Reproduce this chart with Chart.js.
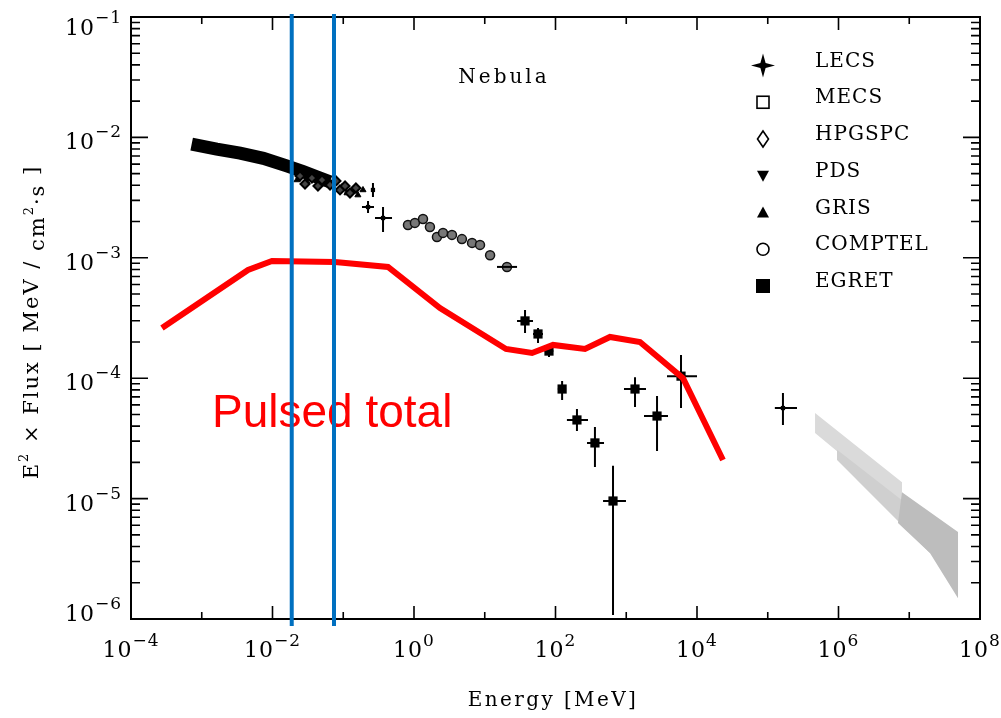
<!DOCTYPE html>
<html>
<head>
<meta charset="utf-8">
<script src="https://cdn.jsdelivr.net/npm/chart.js@4.4.1/dist/chart.umd.min.js"></script>
<style>
body{margin:0;background:#fff;}
#wrap{width:1001px;height:718px;position:relative;}
</style>
</head>
<body>
<div id="wrap"><canvas id="crab"></canvas></div>
<script>
// axes (decade exponents)
const xDecades = [-4,-3,-2,-1,0,1,2,3,4,5,6,7,8];
const xLabelDecades = [-4,-2,0,2,4,6,8];
const yDecades = [-6,-5,-4,-3,-2,-1];

// LECS/MECS/HPGSPC band, E [MeV] vs E^2 F [MeV/cm2 s]
const bandE = [7.2e-4,1.63e-3,3.48e-3,7.42e-3,0.0159,0.0272,0.0422,0.065];
const bandF = [8.8e-3,8.0e-3,7.4e-3,6.7e-3,5.8e-3,5.2e-3,4.7e-3,4.27e-3];

// scattered MECS points at the end of the band
const mecsE = [0.0222,0.0308,0.0426,0.0589,0.0764,0.0960,0.113,0.137,0.161,0.190];
const mecsF = [4.43e-3,4.27e-3,4.43e-3,4.27e-3,4.18e-3,3.87e-3,3.45e-3,3.66e-3,3.32e-3,3.66e-3];

// HPGSPC points
const hpgE = [0.0245,0.0288,0.0361,0.0439,0.0501,0.0650,0.0790,0.0900,0.106,0.1245,0.151];
const hpgF = [4.78e-3,4.10e-3,4.60e-3,3.95e-3,4.43e-3,4.02e-3,4.35e-3,3.66e-3,3.95e-3,3.45e-3,3.80e-3];

// PDS + single high energy point (crosses)
const pdsE   = [0.263,0.224,0.365,1.64e5];
const pdsF   = [3.66e-3,2.64e-3,2.14e-3,5.65e-5];
const pdsElo = [0.263,0.184,0.281,1.26e5];
const pdsEhi = [0.263,0.272,0.489,2.59e5];
const pdsFlo = [3.20e-3,2.36e-3,1.64e-3,4.08e-5];
const pdsFhi = [4.18e-3,2.96e-3,2.64e-3,7.53e-5];

// COMPTEL
const comptelE = [0.822,1.03,1.34,1.68,2.11,2.57,3.44,4.76,6.61,8.57,11.9,20.6];
const comptelF = [1.87e-3,1.95e-3,2.10e-3,1.80e-3,1.49e-3,1.61e-3,1.55e-3,1.43e-3,1.33e-3,1.28e-3,1.05e-3,8.4e-4];
const comptelElo = [null,null,null,null,null,null,null,null,null,null,null,14.9];
const comptelEhi = [null,null,null,null,null,null,null,null,null,null,null,28.6];

// EGRET
const egretE   = [37.1,56.6,80.9,124,201,361,650,1330,2723,5943];
const egretF   = [2.99e-4,2.33e-4,1.68e-4,8.13e-5,4.50e-5,2.90e-5,9.55e-6,8.13e-5,4.85e-5,1.04e-4];
const egretElo = [28.6,48.1,70,108,145,279,470,929,1782,3767];
const egretEhi = [48.1,66.5,93,141,288,485,991,1901,3890,10000];
const egretFlo = [2.37e-4,1.96e-4,1.5e-4,6.59e-5,3.64e-5,1.83e-5,1.08e-6,5.77e-5,2.48e-5,5.66e-5];
const egretFhi = [3.68e-4,2.61e-4,1.9e-4,9.48e-5,5.55e-5,3.94e-5,1.87e-5,1.02e-4,7.11e-5,1.56e-4];

// TeV shaded regions (polygon corners)
const shadeAE = [4.66e5,7.90e6,7.90e6,4.66e5];
const shadeAF = [5.14e-5,1.37e-5,8.85e-6,3.51e-5];
const shadeBE = [9.53e5,1.96e7,1.96e7,9.53e5];
const shadeBF = [2.54e-5,6.40e-6,3.53e-6,2.09e-5];
const shadeCE = [7.90e6,4.89e7,4.89e7,1.96e7,6.93e6];
const shadeCF = [1.13e-5,5.28e-6,1.49e-6,3.53e-6,6.27e-6];

// pulsed total model curve
const pulsedE = [2.74e-4,4.51e-3,9.84e-3,0.0764,0.429,2.33,19.95,46.6,92.3,261,589,1563,6339,23280];
const pulsedF = [2.61e-4,7.93e-4,9.40e-4,9.23e-4,8.39e-4,3.83e-4,1.75e-4,1.62e-4,1.89e-4,1.75e-4,2.20e-4,2.00e-4,1.00e-4,2.09e-5];

// blue markers
const blueE = [0.0187,0.0740];
const blueF = [8.75e-7,0.106];

const legendNames = ['LECS','MECS','HPGSPC','PDS','GRIS','COMPTEL','EGRET'];

const serif = '"DejaVu Serif", serif';
const pts = (xs, ys) => xs.map((v, i) => ({x: v, y: ys[i]}));

const errorSets = {
  EGRET: {xlo: egretElo, xhi: egretEhi, ylo: egretFlo, yhi: egretFhi},
  PDS: {xlo: pdsElo, xhi: pdsEhi, ylo: pdsFlo, yhi: pdsFhi},
  COMPTEL: {xlo: comptelElo, xhi: comptelEhi, ylo: null, yhi: null}
};

const errorBars = {
  id: 'errorBars',
  afterDatasetDraw(chart, args) {
    const ds = chart.data.datasets[args.index];
    const err = errorSets[ds.label];
    if (!err) return;
    const {ctx, scales: {x, y}} = chart;
    ctx.save();
    ctx.strokeStyle = '#000';
    ctx.lineWidth = 2;
    ctx.beginPath();
    ds.data.forEach((p, i) => {
      const px = x.getPixelForValue(p.x), py = y.getPixelForValue(p.y);
      if (err.xlo && err.xlo[i] != null) {
        ctx.moveTo(x.getPixelForValue(err.xlo[i]), py);
        ctx.lineTo(x.getPixelForValue(err.xhi[i]), py);
      }
      if (err.ylo && err.ylo[i] != null) {
        ctx.moveTo(px, y.getPixelForValue(err.ylo[i]));
        ctx.lineTo(px, y.getPixelForValue(err.yhi[i]));
      }
    });
    ctx.stroke();
    ctx.restore();
  }
};

function power(ctx, exp, x, baseY, supY, center) {
  const base = '10';
  const sup = exp < 0 ? '\u2212' + (-exp) : String(exp);
  ctx.letterSpacing = '1px';
  ctx.font = '22px ' + serif;
  const wb = ctx.measureText(base).width;
  ctx.font = '17px ' + serif;
  const ws = ctx.measureText(sup).width;
  const left = center ? x - (wb + ws) / 2 : x - wb - ws;
  ctx.textAlign = 'left';
  ctx.font = '22px ' + serif;
  ctx.fillText(base, left, baseY);
  ctx.font = '17px ' + serif;
  ctx.fillText(sup, left + wb, supY);
  ctx.letterSpacing = '0px';
}

const frame = {
  id: 'frame',
  beforeDatasetsDraw(chart) {
    const {ctx, chartArea: a, scales: {x, y}} = chart;
    ctx.save();
    ctx.fillStyle = '#000';
    ctx.strokeStyle = '#000';
    ctx.lineWidth = 2;
    ctx.strokeRect(a.left, a.top, a.right - a.left, a.bottom - a.top);
    ctx.lineWidth = 1.6;
    ctx.beginPath();
    xDecades.forEach(d => {
      const px = x.getPixelForValue(Math.pow(10, d));
      const len = d % 2 === 0 ? 13 : 7;
      ctx.moveTo(px, a.bottom); ctx.lineTo(px, a.bottom - len);
      ctx.moveTo(px, a.top); ctx.lineTo(px, a.top + len);
    });
    yDecades.forEach(d => {
      for (let m = 1; m < 10; m++) {
        if (d === -1 && m > 1) break;
        const py = y.getPixelForValue(m * Math.pow(10, d));
        const len = m === 1 ? 17 : 9;
        ctx.moveTo(a.left, py); ctx.lineTo(a.left + len, py);
        ctx.moveTo(a.right, py); ctx.lineTo(a.right - len, py);
      }
    });
    ctx.stroke();

    // tick labels
    xLabelDecades.forEach(d => {
      const px = x.getPixelForValue(Math.pow(10, d));
      power(ctx, d, px, a.bottom + 38, a.bottom + 27, true);
    });
    yDecades.forEach(d => {
      const py = y.getPixelForValue(Math.pow(10, d));
      const base = Math.min(Math.max(py + 12, a.top + 18), a.bottom + 2);
      power(ctx, d, a.left - 9, base, base - 12, false);
    });

    // axis titles
    ctx.font = '20px ' + serif;
    ctx.letterSpacing = '2.4px';
    ctx.textAlign = 'center';
    ctx.fillText('Energy [MeV]', 553, 706);

    const segs = [['E', 21, 0], ['2', 13, -10], [' \u00d7 Flux [ MeV /', 21, 0], [' cm', 21, 6],
                  ['2', 13, -5], ['\u00b7s', 21, 6], [' ]', 21, 0]];
    ctx.letterSpacing = '2px';
    ctx.textAlign = 'left';
    let total = 0;
    segs.forEach(s => { ctx.font = s[1] + 'px ' + serif; total += ctx.measureText(s[0]).width; });
    ctx.translate(38, 322);
    ctx.rotate(-Math.PI / 2);
    let cx = -total / 2;
    segs.forEach(s => {
      ctx.font = s[1] + 'px ' + serif;
      ctx.fillText(s[0], cx, s[2]);
      cx += ctx.measureText(s[0]).width;
    });
    ctx.restore();

    ctx.save();
    ctx.fillStyle = '#ff0000';
    ctx.font = '46px "Liberation Sans", Arial, sans-serif';
    ctx.textAlign = 'left';
    ctx.fillText('Pulsed total', 212, 427);
    ctx.restore();
  },
  afterDraw(chart) {
    const {ctx} = chart;
    ctx.save();
    ctx.fillStyle = '#000';
    ctx.strokeStyle = '#000';
    ctx.font = '20px ' + serif;
    ctx.letterSpacing = '3px';
    ctx.textAlign = 'center';
    ctx.fillText('Nebula', 504, 83);

    ctx.letterSpacing = '1px';
    ctx.textAlign = 'left';
    legendNames.forEach((name, i) => {
      const by = 66.5 + i * 36.75;
      ctx.fillText(name, 815, by);
      const sx = 763, sy = by - 1;
      ctx.lineWidth = 1.6;
      ctx.beginPath();
      if (i === 0) {
        const r = 12, k = 2.6;
        ctx.moveTo(sx, sy - r); ctx.lineTo(sx + k, sy - k); ctx.lineTo(sx + r, sy);
        ctx.lineTo(sx + k, sy + k); ctx.lineTo(sx, sy + r); ctx.lineTo(sx - k, sy + k);
        ctx.lineTo(sx - r, sy); ctx.lineTo(sx - k, sy - k); ctx.closePath();
        ctx.fill();
      } else if (i === 1) {
        ctx.strokeRect(sx - 6, sy - 6, 12, 12);
      } else if (i === 2) {
        ctx.moveTo(sx, sy - 8); ctx.lineTo(sx + 5.5, sy); ctx.lineTo(sx, sy + 8); ctx.lineTo(sx - 5.5, sy);
        ctx.closePath(); ctx.stroke();
      } else if (i === 3) {
        ctx.moveTo(sx - 6, sy - 5); ctx.lineTo(sx + 6, sy - 5); ctx.lineTo(sx, sy + 6);
        ctx.closePath(); ctx.fill();
      } else if (i === 4) {
        ctx.moveTo(sx - 6, sy + 5); ctx.lineTo(sx + 6, sy + 5); ctx.lineTo(sx, sy - 6);
        ctx.closePath(); ctx.fill();
      } else if (i === 5) {
        ctx.arc(sx, sy, 6, 0, Math.PI * 2); ctx.stroke();
      } else {
        ctx.fillRect(sx - 7, sy - 7, 14, 14);
      }
    });
    ctx.restore();
  }
};

const shade = (label, xs, ys, color) => ({
  label, data: pts(xs, ys), showLine: true, fill: 'shape', backgroundColor: color,
  borderWidth: 0, borderColor: color, pointRadius: 0
});

new Chart(document.getElementById('crab'), {
  type: 'scatter',
  data: {
    datasets: [
      {label: 'blue1', data: pts([blueE[0], blueE[0]], blueF), showLine: true, borderColor: '#0070c0',
       borderWidth: 4, pointRadius: 0, clip: false},
      {label: 'blue2', data: pts([blueE[1], blueE[1]], blueF), showLine: true, borderColor: '#0070c0',
       borderWidth: 4, pointRadius: 0, clip: false},
      {label: 'Pulsed total', data: pts(pulsedE, pulsedF), showLine: true, borderColor: '#ff0000',
       borderWidth: 6, pointRadius: 0},
      {label: 'EGRET', data: pts(egretE, egretF), pointStyle: 'rect', pointRadius: 6.5,
       backgroundColor: '#000', borderColor: '#000', borderWidth: 0},
      {label: 'PDS', data: pts(pdsE, pdsF), pointStyle: 'rect', pointRadius: 3,
       backgroundColor: '#000', borderColor: '#000', borderWidth: 0},
      {label: 'COMPTEL', data: pts(comptelE, comptelF), pointStyle: 'circle', pointRadius: 4.5,
       backgroundColor: '#777', borderColor: '#111', borderWidth: 1.5},
      {label: 'HPGSPC', data: pts(hpgE, hpgF), pointStyle: 'rectRot', pointRadius: 4.5,
       backgroundColor: '#444', borderColor: '#000', borderWidth: 2},
      {label: 'MECS', data: pts(mecsE, mecsF), pointStyle: 'triangle', pointRadius: 3.5,
       backgroundColor: '#000', borderColor: '#000', borderWidth: 1},
      {label: 'LECS', data: pts(bandE, bandF), showLine: true, borderColor: '#000',
       borderWidth: 13, pointRadius: 0},
      shade('shadeC', shadeCE, shadeCF, '#bdbdbd'),
      shade('shadeB', shadeBE, shadeBF, '#cfcfcf'),
      shade('shadeA', shadeAE, shadeAF, '#dadada')
    ]
  },
  options: {
    responsive: true,
    maintainAspectRatio: false,
    animation: false,
    layout: {padding: {left: 131, top: 17, right: 21, bottom: 99}},
    plugins: {legend: {display: false}, tooltip: {enabled: false}},
    scales: {
      x: {type: 'logarithmic', min: 1e-4, max: 1e8, display: false},
      y: {type: 'logarithmic', min: 1e-6, max: 1e-1, display: false}
    }
  },
  plugins: [frame, errorBars]
});
</script>
</body>
</html>
